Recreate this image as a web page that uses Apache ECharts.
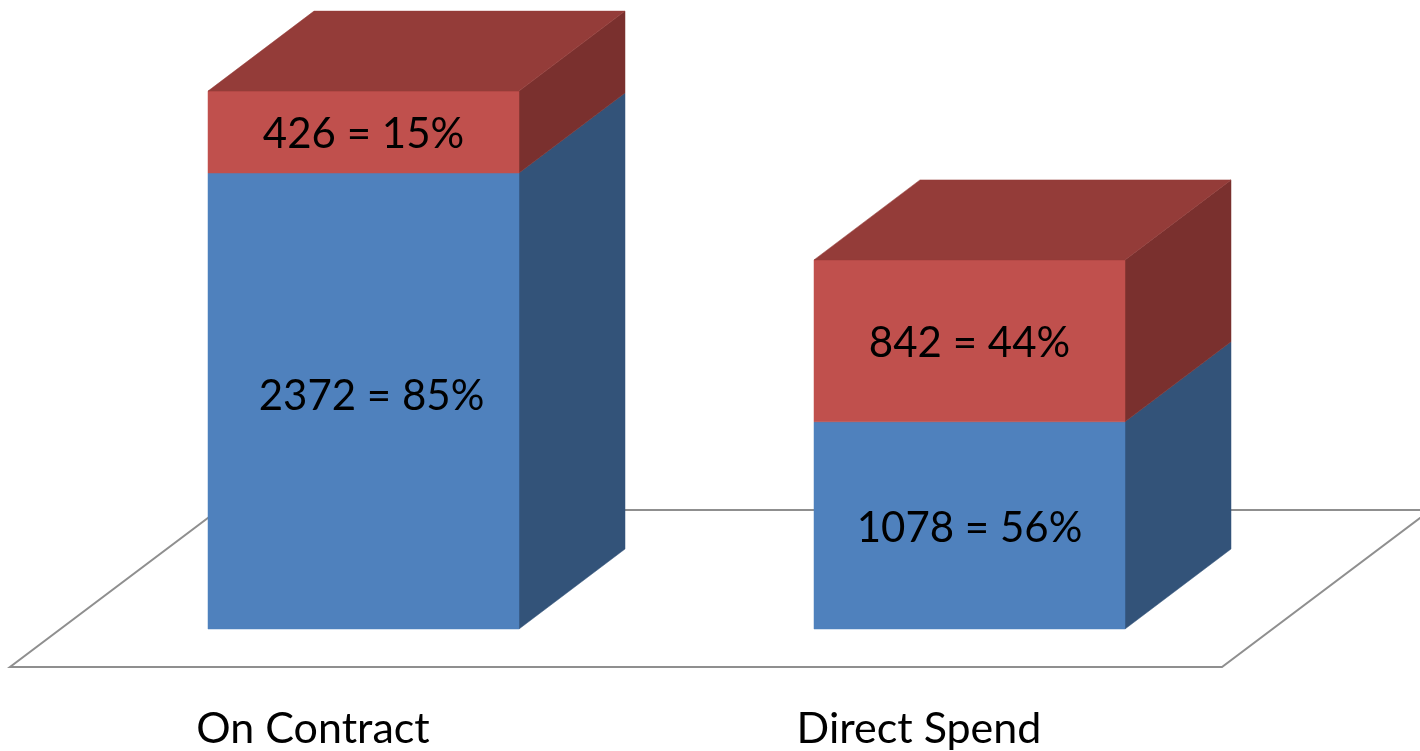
<!DOCTYPE html>
<html><head><meta charset="utf-8">
<style>html,body{margin:0;padding:0;background:#fff}#c{width:1420px;height:751px}</style>
<script src="https://cdn.jsdelivr.net/npm/echarts@6/dist/echarts.min.js"></script>
</head><body><div id="c"></div>
<script>
var categories = ['On Contract', 'Direct Spend'];
var onContractSpend = [2372, 1078];
var otherSpend = [426, 842];
var onContractPct = [85, 56];
var otherPct = [15, 44];

var FONT = 'Lato';
var PX_PER_UNIT = 456 / 2372;
var FLOOR_BOTTOM = 667, FLOOR_LEFT = 10, FLOOR_WIDTH = 1212;
var FLOOR_DEPTH = [208.5, -157];
var BAR_SHIFT = [50.5, -38];
var BAR_WIDTH = 311;
var BAR_DEPTH = [106, -80];
var YMAX = 3400;

var chart = echarts.init(document.getElementById('c'));

function poly(points, fill, z) {
  return { type: 'polygon', z2: z, shape: { points: points }, style: { fill: fill, stroke: fill, lineWidth: 0.5 } };
}
function box(xl, yb, yt, front, side, z) {
  var xr = xl + BAR_WIDTH, dx = BAR_DEPTH[0], dy = BAR_DEPTH[1];
  return [
    poly([[xr, yb], [xr + dx, yb + dy], [xr + dx, yt + dy], [xr, yt]], side, z),
    poly([[xl, yb], [xr, yb], [xr, yt], [xl, yt]], front, z + 1)
  ];
}
function text(x, y, s, z) {
  return { type: 'text', z2: z, style: { x: x, y: y, text: s, fill: '#000', font: '42px ' + FONT, align: 'center', verticalAlign: 'middle' } };
}

chart.setOption({
  animation: false,
  backgroundColor: '#fff',
  grid: { left: FLOOR_LEFT, width: FLOOR_WIDTH, top: FLOOR_BOTTOM - YMAX * PX_PER_UNIT, height: YMAX * PX_PER_UNIT, containLabel: false },
  xAxis: {
    type: 'category', data: categories,
    axisLine: { show: false }, axisTick: { show: false }, splitLine: { show: false },
    axisLabel: { fontFamily: FONT, fontSize: 43, color: '#000', margin: 41 }
  },
  yAxis: { type: 'value', min: 0, max: YMAX, show: false },
  series: [
    {
      type: 'custom', coordinateSystem: 'cartesian2d', silent: true, clip: false, z: 1,
      data: [[0, 0]],
      renderItem: function (params, api) {
        var y0 = api.coord([0, 0])[1];
        var g = params.coordSys;
        var a = [g.x, y0], b = [g.x + g.width, y0];
        var c = [b[0] + FLOOR_DEPTH[0], y0 + FLOOR_DEPTH[1]], d = [a[0] + FLOOR_DEPTH[0], y0 + FLOOR_DEPTH[1]];
        return { type: 'polygon', shape: { points: [a, b, c, d] }, style: { fill: '#fff', stroke: '#8F8F8F', lineWidth: 2 } };
      }
    },
    {
      type: 'custom', coordinateSystem: 'cartesian2d', silent: true, clip: false, z: 2,
      data: categories.map(function (c, i) { return [i, onContractSpend[i], otherSpend[i]]; }),
      encode: { x: 0, y: 1 },
      renderItem: function (params, api) {
        var i = api.value(0), v1 = api.value(1), v2 = api.value(2);
        var cx = api.coord([i, 0])[0] + BAR_SHIFT[0];
        var xl = cx - BAR_WIDTH / 2, xr = xl + BAR_WIDTH;
        var y0 = api.coord([i, 0])[1] + BAR_SHIFT[1];
        var y1 = api.coord([i, v1])[1] + BAR_SHIFT[1];
        var y2 = api.coord([i, v1 + v2])[1] + BAR_SHIFT[1];
        var dx = BAR_DEPTH[0], dy = BAR_DEPTH[1];
        var els = box(xl, y0, y1, '#4F81BD', '#335379', 1)
          .concat(box(xl, y1, y2, '#C0504D', '#7A302E', 3));
        els.push(poly([[xl, y2], [xr, y2], [xr + dx, y2 + dy], [xl + dx, y2 + dy]], '#943C39', 5));
        els.push(text(cx + (i === 0 ? 8 : 0), (y0 + y1) / 2 + (i === 0 ? -5 : 3), v1 + ' = ' + onContractPct[i] + '%', 6));
        els.push(text(cx, (y1 + y2) / 2 + (i === 0 ? 2 : 3), v2 + ' = ' + otherPct[i] + '%', 6));
        return { type: 'group', children: els };
      }
    }
  ]
});
</script></body></html>
